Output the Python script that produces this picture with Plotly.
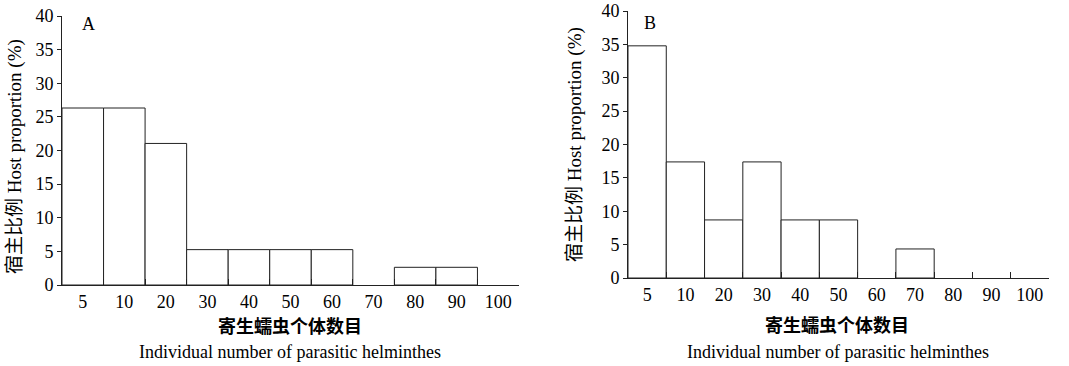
import plotly.graph_objects as go

categories = ["5", "10", "20", "30", "40", "50", "60", "70", "80", "90", "100"]
values_a = [26.32, 26.32, 21.05, 5.26, 5.26, 5.26, 5.26, 0, 2.63, 2.63, 0]
values_b = [34.78, 17.39, 8.70, 17.39, 8.70, 8.70, 0, 4.35, 0, 0, 0]
y_ticks = [0, 5, 10, 15, 20, 25, 30, 35, 40]

W, H = 1069, 366
SERIF = "Liberation Serif, Times New Roman, Noto Sans CJK SC, serif"
LINE = "#222222"

def drawn(vals):
    # zero-height bars are not drawn in the reference
    return [v if v > 0 else None for v in vals]

fig = go.Figure()
bar_style = dict(marker=dict(color="white", line=dict(color=LINE, width=1)), width=1, showlegend=False, hoverinfo="skip")
fig.add_trace(go.Bar(x=categories, y=drawn(values_a), xaxis="x", yaxis="y", **bar_style))
fig.add_trace(go.Bar(x=categories, y=drawn(values_b), xaxis="x2", yaxis="y2", **bar_style))

def px_x(p):
    return p / W

def px_y(p):
    return 1 - p / H

xcommon = dict(type="category", tickson="boundaries", ticks="inside", ticklen=6, tickcolor=LINE,
               showline=True, linecolor=LINE, linewidth=1, showgrid=False, zeroline=False, automargin=False,
               tickfont=dict(family=SERIF, size=18, color="black"), range=[-0.5, 10.5], fixedrange=True)
ycommon = dict(range=[0, 40], tickvals=y_ticks, ticks="outside", ticklen=4, tickcolor=LINE,
               showline=True, linecolor=LINE, linewidth=1, showgrid=False, zeroline=False, automargin=False,
               tickfont=dict(family=SERIF, size=18, color="black"), fixedrange=True)

fig.update_layout(
    width=W, height=H,
    margin=dict(l=0, r=0, t=0, b=0),
    paper_bgcolor="white", plot_bgcolor="white",
    bargap=0,
    xaxis=dict(domain=[px_x(62), px_x(519)], anchor="y", **xcommon),
    yaxis=dict(domain=[px_y(285), px_y(16)], anchor="x", **ycommon),
    xaxis2=dict(domain=[px_x(628), px_x(1049)], anchor="y2", **xcommon),
    yaxis2=dict(domain=[px_y(278), px_y(11)], anchor="x2", **ycommon),
)

def ann(text, x, y, size=18, angle=0, family=SERIF):
    fig.add_annotation(text=text, x=px_x(x), y=px_y(y), xref="paper", yref="paper",
                       showarrow=False, textangle=angle, xanchor="center", yanchor="middle",
                       font=dict(family=family, size=size, color="black"))

ann("A", 88, 24)
ann("B", 650, 23)
ytitle = "宿主比例 Host proportion (%)"
ann(ytitle, 15, 157, size=19, angle=-90)
ann(ytitle, 575, 145, size=19, angle=-90)
ann("<b>寄生蠕虫个体数目</b>", 290, 326)
ann("Individual number of parasitic helminthes", 290, 352)
ann("<b>寄生蠕虫个体数目</b>", 837, 325)
ann("Individual number of parasitic helminthes", 838, 352)

fig.write_html("out.html", config={"displayModeBar": False, "staticPlot": True},
               post_script="document.body.style.margin='0';document.body.style.overflow='hidden';")
